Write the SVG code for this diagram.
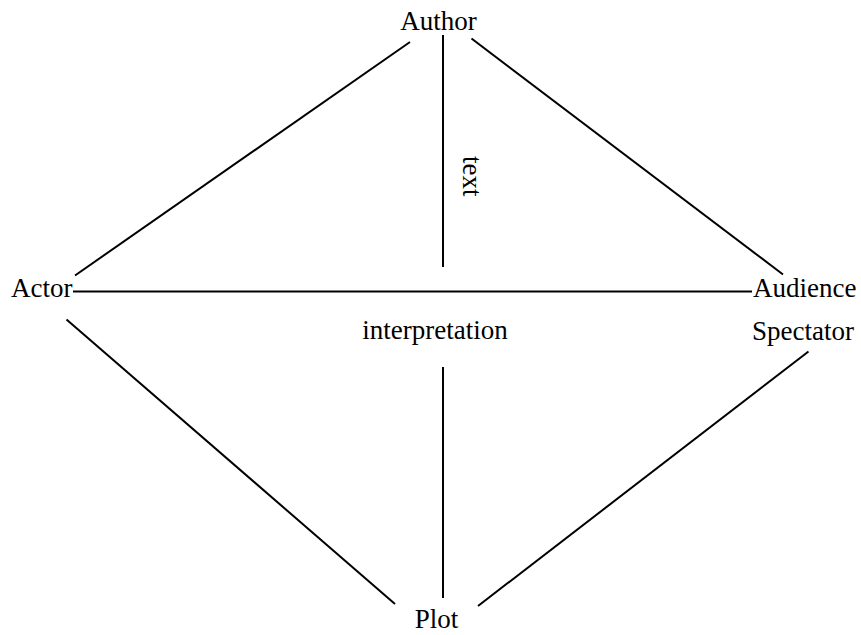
<svg xmlns="http://www.w3.org/2000/svg" width="861" height="635" viewBox="0 0 861 635">
<style>
.lbl{font-family:"Liberation Serif","Times New Roman",serif;font-size:27px;fill:#000}
.ln{stroke:#000;stroke-width:2;fill:none;stroke-linecap:butt}
</style>
<rect width="861" height="635" fill="#fff"/>
<g id="connectors">
<line class="ln" x1="410" y1="42" x2="75" y2="275.5"/>
<line class="ln" x1="471.5" y1="38.5" x2="783" y2="274.5"/>
<line class="ln" x1="443" y1="35" x2="443" y2="267"/>
<line class="ln" x1="73" y1="291.5" x2="752" y2="291.5"/>
<line class="ln" x1="66.5" y1="319.5" x2="395" y2="604"/>
<line class="ln" x1="443" y1="367" x2="443" y2="598"/>
<line class="ln" x1="808.5" y1="351.5" x2="478" y2="606"/>
<text class="lbl" transform="translate(463,156) rotate(90)">text</text>
<text class="lbl" x="435" y="339" text-anchor="middle">interpretation</text>
</g>
<g id="author"><text class="lbl" x="438.5" y="30" text-anchor="middle">Author</text></g>
<g id="actor"><text class="lbl" x="11" y="297">Actor</text></g>
<g id="audience"><text class="lbl" x="753" y="297">Audience</text><text class="lbl" x="752" y="340">Spectator</text></g>
<g id="plot"><text class="lbl" x="436.5" y="628" text-anchor="middle">Plot</text></g>
</svg>
